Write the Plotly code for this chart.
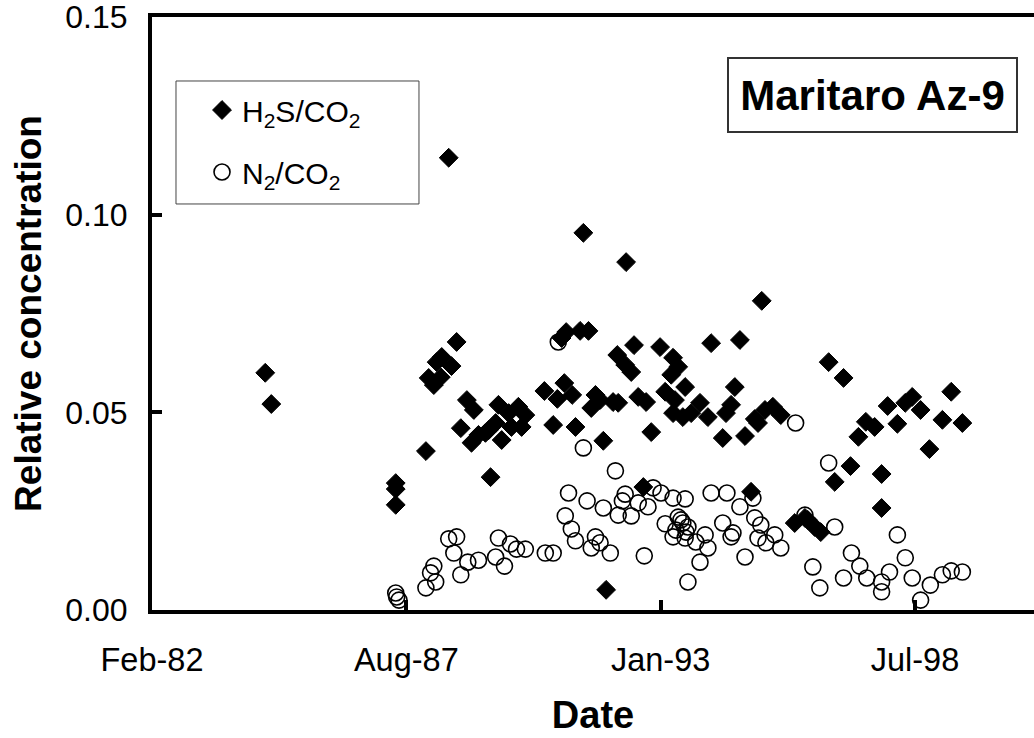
import pandas as pd
import plotly.graph_objects as go

# ---- data (decimal year, ratio) ----
h2s_year = [1984.57, 1984.70, 1987.38, 1987.38, 1987.38, 1988.03, 1988.69, 1988.37, 1988.26, 1988.58,
            1988.09, 1988.20, 1988.35, 1988.52, 1988.91, 1989.06, 1988.78, 1989.01, 1989.16, 1989.42,
            1989.59, 1989.81, 1990.02, 1989.53, 1989.87, 1990.09, 1989.66, 1989.38, 1989.31, 1990.17,
            1990.58, 1990.86, 1991.01, 1991.18, 1990.77, 1991.25, 1991.85, 1990.95, 1991.05, 1991.35,
            1991.53, 1991.68, 1991.59, 1991.78, 1992.06, 1992.17, 1992.15, 1992.32, 1992.45, 1992.51,
            1992.60, 1992.77, 1992.88, 1993.07, 1991.91, 1992.34, 1991.42, 1992.71, 1995.26, 1994.17,
            1994.79, 1993.35, 1993.46, 1993.31, 1993.61, 1993.18, 1993.39, 1993.35, 1993.56, 1993.74,
            1993.93, 1994.10, 1994.68, 1994.60, 1994.49, 1994.42, 1994.90, 1995.11, 1995.33, 1995.50,
            1995.67, 1995.18, 1995.03, 1995.97, 1996.19, 1996.25, 1996.40, 1996.53, 1996.70, 1997.02,
            1997.97, 1998.35, 1998.50, 1998.68, 1999.34, 1999.15, 1999.58, 1998.18, 1997.50, 1997.69,
            1997.34, 1998.87, 1997.17, 1996.83, 1997.84, 1997.84]
h2s_val = [0.0600, 0.0521, 0.0321, 0.0306, 0.0266, 0.0402, 0.0678, 0.0640, 0.0627, 0.0617,
           0.0587, 0.0569, 0.0589, 0.1144, 0.0531, 0.0506, 0.0460, 0.0423, 0.0443, 0.0336,
           0.0519, 0.0498, 0.0514, 0.0473, 0.0463, 0.0463, 0.0430, 0.0455, 0.0448, 0.0493,
           0.0554, 0.0534, 0.0574, 0.0544, 0.0468, 0.0463, 0.0428, 0.0688, 0.0703, 0.0706,
           0.0706, 0.0544, 0.0511, 0.0531, 0.0526, 0.0524, 0.0645, 0.0620, 0.0602, 0.0670,
           0.0539, 0.0526, 0.0450, 0.0665, 0.0051, 0.0880, 0.0954, 0.0311, 0.0782, 0.0675,
           0.0683, 0.0638, 0.0615, 0.0595, 0.0564, 0.0552, 0.0531, 0.0498, 0.0488, 0.0498,
           0.0524, 0.0488, 0.0564, 0.0519, 0.0498, 0.0435, 0.0440, 0.0483, 0.0506, 0.0514,
           0.0493, 0.0473, 0.0299, 0.0220, 0.0233, 0.0228, 0.0210, 0.0197, 0.0627, 0.0587,
           0.0516, 0.0524, 0.0539, 0.0506, 0.0552, 0.0481, 0.0473, 0.0471, 0.0476, 0.0463,
           0.0438, 0.0407, 0.0364, 0.0324, 0.0344, 0.0258]

n2_year = [1987.38, 1987.40, 1987.45, 1988.03, 1988.13, 1988.20, 1988.24, 1988.52, 1988.69, 1988.63,
           1988.78, 1988.93, 1989.16, 1989.59, 1989.53, 1989.72, 1989.85, 1989.98, 1990.17, 1990.60,
           1990.77, 1990.88, 1991.42, 1992.11, 1991.10, 1991.03, 1991.16, 1991.25, 1991.50, 1991.85,
           1991.68, 1991.59, 1991.78, 1992.00, 1992.73, 1992.17, 1992.32, 1992.26, 1992.45, 1992.60,
           1992.81, 1992.92, 1993.09, 1993.18, 1993.35, 1993.61, 1993.46, 1993.56, 1993.41, 1993.67,
           1993.35, 1993.61, 1993.52, 1993.63, 1993.84, 1994.04, 1994.10, 1993.93, 1993.67, 1994.17,
           1994.51, 1994.79, 1994.42, 1994.64, 1994.60, 1994.90, 1995.07, 1995.11, 1995.24, 1995.18,
           1995.35, 1995.54, 1995.67, 1995.99, 1996.19, 1996.83, 1996.70, 1996.36, 1996.51, 1997.19,
           1997.37, 1997.02, 1997.52, 1997.84, 1998.01, 1997.84, 1998.18, 1998.35, 1998.50, 1998.89,
           1998.68, 1999.15, 1999.34, 1999.58]
n2_val = [0.0043, 0.0033, 0.0025, 0.0056, 0.0094, 0.0111, 0.0071, 0.0180, 0.0185, 0.0144,
          0.0089, 0.0121, 0.0126, 0.0182, 0.0134, 0.0111, 0.0167, 0.0154, 0.0154, 0.0144,
          0.0144, 0.0678, 0.0410, 0.0352, 0.0296, 0.0238, 0.0205, 0.0175, 0.0276, 0.0258,
          0.0185, 0.0157, 0.0170, 0.0144, 0.0137, 0.0240, 0.0293, 0.0276, 0.0238, 0.0271,
          0.0261, 0.0309, 0.0296, 0.0218, 0.0283, 0.0281, 0.0235, 0.0220, 0.0202, 0.0210,
          0.0185, 0.0182, 0.0228, 0.0197, 0.0172, 0.0190, 0.0157, 0.0121, 0.0071, 0.0296,
          0.0296, 0.0261, 0.0220, 0.0195, 0.0185, 0.0134, 0.0283, 0.0233, 0.0215, 0.0182,
          0.0170, 0.0190, 0.0157, 0.0473, 0.0240, 0.0210, 0.0372, 0.0109, 0.0056, 0.0144,
          0.0111, 0.0081, 0.0081, 0.0071, 0.0096, 0.0046, 0.0190, 0.0132, 0.0081, 0.0063,
          0.0025, 0.0089, 0.0099, 0.0096]

x_tick_dates = ["1982-02-18", "1987-08-11", "1993-01-31", "1998-07-24"]
x_tick_text = ["Feb-82", "Aug-87", "Jan-93", "Jul-98"]
x_range = ["1982-02-18", "2001-02-14"]
y_tick_vals = [0.0, 0.05, 0.10, 0.15]
y_tick_text = ["0.00", "0.05", "0.10", "0.15"]


def to_dates(years):
    out = []
    for y in years:
        yr = int(y)
        a = pd.Timestamp(yr, 1, 1)
        b = pd.Timestamp(yr + 1, 1, 1)
        out.append(a + (b - a) * (y - yr))
    return out


FONT = "Arial, Liberation Sans, sans-serif"

fig = go.Figure()
fig.add_trace(go.Scatter(
    x=to_dates(h2s_year), y=h2s_val, mode="markers",
    name="H<sub>2</sub>S/CO<sub>2</sub>", legendgroup="a",
    marker=dict(symbol="diamond", size=14.5, color="black",
                line=dict(color="black", width=1)),
))
fig.add_trace(go.Scatter(
    x=to_dates(n2_year), y=n2_val, mode="markers",
    name="N<sub>2</sub>/CO<sub>2</sub>", legendgroup="b",
    marker=dict(symbol="circle-open", size=16, color="black",
                line=dict(color="black", width=1.6)),
))

fig.update_layout(
    width=1034, height=738,
    margin=dict(l=152, r=0, t=17, b=128, autoexpand=False),
    paper_bgcolor="white", plot_bgcolor="white",
    font=dict(family=FONT, size=30, color="black"),
    showlegend=True,
    legend=dict(
        x=0.0567, y=0.887, xanchor="left", yanchor="top",
        borderwidth=0, bgcolor="rgba(0,0,0,0)",
        font=dict(family=FONT, size=30, color="black"),
        tracegroupgap=20, traceorder="grouped",
    ),
    xaxis=dict(
        type="date", range=x_range, automargin=False,
        tickvals=x_tick_dates, ticktext=x_tick_text,
        ticks="inside", ticklen=10, tickwidth=4, tickcolor="black",
        showline=True, linewidth=4, linecolor="black", mirror=True,
        showgrid=False, zeroline=False,
        tickfont=dict(family=FONT, size=32.5),
        ticklabelstandoff=18, ticklabeloverflow="allow",
        title=dict(text="<b>Date</b>", font=dict(family=FONT, size=38), standoff=25),
    ),
    yaxis=dict(
        range=[0, 0.15], automargin=False,
        tickvals=y_tick_vals, ticktext=y_tick_text,
        ticks="inside", ticklen=10, tickwidth=4, tickcolor="black",
        showline=True, linewidth=4, linecolor="black", mirror=False,
        showgrid=False, zeroline=False,
        tickfont=dict(family=FONT, size=32),
        ticklabelstandoff=14, ticklabeloverflow="allow",
        title=dict(text="<b>Relative concentration</b>", font=dict(family=FONT, size=37), standoff=13),
    ),
    shapes=[dict(
        type="rect", xref="paper", yref="paper",
        x0=0.0272, x1=0.3027, y0=0.6847, y1=0.8921,
        line=dict(color="#444444", width=1), fillcolor="rgba(0,0,0,0)", layer="below",
    )],
    annotations=[dict(
        text="<b>Maritaro Az-9</b>", xref="paper", yref="paper",
        x=0.817, y=0.8685, xanchor="center", yanchor="middle",
        showarrow=False, font=dict(family=FONT, size=42, color="black"),
        bordercolor="#333333", borderwidth=2, borderpad=2,
        width=283, height=68, bgcolor="white",
    )],
)

# remove the page's default 8px body margin so the figure fills the window exactly
fig.write_html("out.html", config={"displayModeBar": False},
               post_script="document.body.style.margin='0';")
